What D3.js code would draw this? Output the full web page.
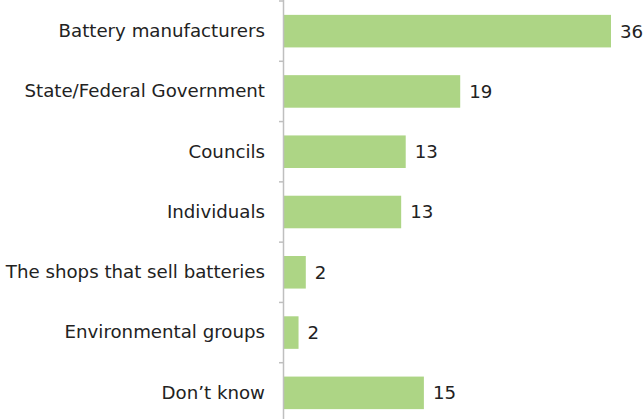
<!DOCTYPE html>
<html>
<head>
<meta charset="utf-8">
<script src="https://cdn.jsdelivr.net/npm/d3@7"></script>
<style>
  body { margin: 0; background: #fff; }
  svg { display: block; }
</style>
</head>
<body>
<svg></svg>
<script>
// categories, top to bottom
var categories = [
    "Battery manufacturers",
    "State/Federal Government",
    "Councils",
    "Individuals",
    "The shops that sell batteries",
    "Environmental groups",
    "Don\u2019t know"
];
// percentages (bar lengths; labels are rounded)
var values = [36, 19.4, 13.4, 12.9, 2.4, 1.6, 15.4];

var svgWidth = 643,
    svgHeight = 419;
var margin = { top: 1, right: 0, bottom: 0, left: 284 };

var svg = d3.select('svg')
    .attr('width', svgWidth)
    .attr('height', svgHeight);

var data = categories.map(function (c, i) {
    return { name: c, value: values[i] };
});

var x = d3.scaleLinear()
    .domain([0, 36])
    .range([margin.left, margin.left + 327]);

var y = d3.scaleBand()
    .domain(categories)
    .range([margin.top, 423])
    .paddingInner(0.46)
    .paddingOuter(0.23);

var font = "'DejaVu Sans', sans-serif";
var fontSize = '18.2px';

// bars
svg.append('g')
    .selectAll('rect')
    .data(data)
    .enter()
    .append('rect')
    .attr('x', x(0))
    .attr('y', d => y(d.name))
    .attr('width', d => x(d.value) - x(0))
    .attr('height', y.bandwidth())
    .attr('fill', '#add585');

// category axis
var axis = svg.append('g')
    .attr('transform', 'translate(' + x(0) + ',0)')
    .call(d3.axisLeft(y).tickSize(0).tickPadding(19));

axis.select('.domain').remove();
axis.selectAll('text')
    .attr('fill', '#222')
    .style('font-family', font)
    .style('font-size', fontSize);

// separator ticks between bands
var edges = categories.map(c => y(c) - y.step() * y.paddingInner() / 2);
svg.append('g')
    .selectAll('line')
    .data(edges)
    .enter()
    .append('line')
    .attr('x1', x(0) - 5)
    .attr('x2', x(0))
    .attr('y1', d => d)
    .attr('y2', d => d)
    .attr('stroke', '#bfbfbf')
    .attr('stroke-width', 1.5);

svg.append('line')
    .attr('x1', x(0) - 0.5)
    .attr('x2', x(0) - 0.5)
    .attr('y1', 0)
    .attr('y2', svgHeight)
    .attr('stroke', '#bfbfbf')
    .attr('stroke-width', 1.5);

// value labels
svg.append('g')
    .selectAll('text')
    .data(data)
    .enter()
    .append('text')
    .attr('x', d => x(d.value) + 9)
    .attr('y', d => y(d.name) + y.bandwidth() / 2)
    .attr('dy', '0.35em')
    .attr('fill', '#222')
    .style('font-family', font)
    .style('font-size', fontSize)
    .text(d => d3.format('.0f')(d.value));
</script>
</body>
</html>
